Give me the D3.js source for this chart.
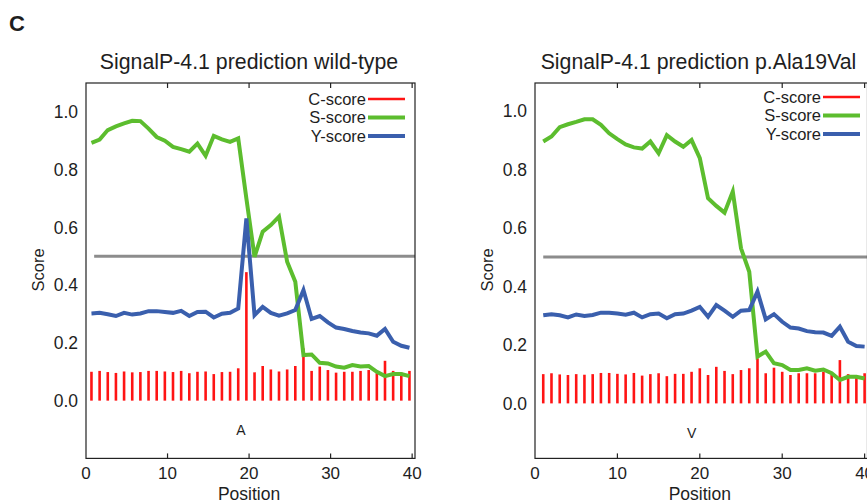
<!DOCTYPE html>
<html lang="en">
<head>
<meta charset="UTF-8">
<title>SignalP-4.1 prediction</title>
<script src="https://d3js.org/d3.v7.min.js"></script>
<style>
    body { margin: 0; background: #fff; }
    svg { display: block; font-family: "Liberation Sans", Arial, sans-serif; }
    text { fill: #1e1e1e; }
</style>
</head>
<body>
<svg id="chart" width="867" height="502"></svg>
<script>
// residue positions 1..40
const positions = [1,2,3,4,5,6,7,8,9,10,11,12,13,14,15,16,17,18,19,20,
                   21,22,23,24,25,26,27,28,29,30,31,32,33,34,35,36,37,38,39,40];

const xTicks = [0, 10, 20, 30, 40];
const yTicks = [0.0, 0.2, 0.4, 0.6, 0.8, 1.0];
const cutoff = 0.5;
const seriesNames = ["C-score", "S-score", "Y-score"];

// wild-type
const wtC = [0.100,0.103,0.099,0.096,0.101,0.098,0.099,0.103,0.103,0.101,
             0.099,0.103,0.095,0.100,0.101,0.092,0.099,0.100,0.112,0.445,
             0.098,0.120,0.108,0.101,0.108,0.120,0.181,0.103,0.118,0.106,
             0.097,0.100,0.100,0.103,0.106,0.095,0.138,0.103,0.097,0.103];
const wtS = [0.893,0.904,0.937,0.950,0.960,0.969,0.968,0.942,0.913,0.900,
             0.879,0.871,0.862,0.890,0.848,0.917,0.905,0.896,0.908,0.700,
             0.498,0.585,0.608,0.637,0.481,0.412,0.158,0.160,0.131,0.129,
             0.118,0.114,0.123,0.118,0.120,0.100,0.085,0.092,0.092,0.085];
const wtY = [0.302,0.304,0.299,0.293,0.304,0.298,0.302,0.310,0.310,0.307,
             0.304,0.311,0.293,0.307,0.308,0.288,0.301,0.304,0.319,0.631,
             0.296,0.325,0.304,0.294,0.302,0.314,0.383,0.283,0.293,0.271,
             0.253,0.248,0.241,0.236,0.233,0.225,0.248,0.204,0.190,0.183];

// p.Ala19Val
const mutC = [0.100,0.103,0.099,0.097,0.100,0.098,0.100,0.104,0.104,0.101,
              0.099,0.104,0.095,0.100,0.103,0.093,0.101,0.101,0.108,0.120,
              0.097,0.125,0.111,0.100,0.114,0.120,0.154,0.103,0.122,0.108,
              0.097,0.103,0.103,0.103,0.108,0.100,0.148,0.100,0.097,0.103];
const mutS = [0.895,0.912,0.944,0.954,0.962,0.971,0.971,0.952,0.923,0.903,
              0.885,0.875,0.871,0.895,0.855,0.917,0.895,0.877,0.900,0.838,
              0.701,0.675,0.652,0.724,0.530,0.450,0.160,0.177,0.137,0.131,
              0.114,0.114,0.120,0.112,0.116,0.103,0.080,0.091,0.091,0.085];
const mutY = [0.301,0.305,0.301,0.294,0.304,0.299,0.302,0.310,0.310,0.307,
              0.303,0.310,0.294,0.305,0.307,0.291,0.305,0.307,0.317,0.330,
              0.296,0.336,0.317,0.296,0.317,0.319,0.382,0.287,0.305,0.279,
              0.259,0.256,0.247,0.243,0.242,0.231,0.262,0.211,0.196,0.194];

const colors = { c: "#ff1414", s: "#5cbd2e", y: "#3a5fad", cut: "#8c8c8c" };

// the two panels are slightly differently scaled in the source figure
const panels = [
    { title: "SignalP-4.1 prediction wild-type", residue: "A", C: wtC, S: wtS, Y: wtY,
      x0: 86, x1: 415, shift: -0.33, yDomain: [-0.2, 1.1], titleX: 249, legendX: 405, legendY: 99 },
    { title: "SignalP-4.1 prediction p.Ala19Val", residue: "V", C: mutC, S: mutS, Y: mutY,
      x0: 535, x1: 867.5, shift: 0, yDomain: [-0.188, 1.095], titleX: 698.5, legendX: 860, legendY: 97 }
];

const svg = d3.select("#chart");
const frameTop = 83, frameBottom = 458.4;

svg.append("text")
    .attr("x", 9).attr("y", 30.5)
    .attr("font-size", 22).attr("font-weight", "bold")
    .text("C");

panels.forEach(p => {
    const x = d3.scaleLinear().domain([0, 40.35]).range([p.x0, p.x1]);
    const y = d3.scaleLinear().domain(p.yDomain).range([frameBottom, frameTop]);
    const g = svg.append("g");

    g.append("text")
        .attr("x", p.titleX).attr("y", 68.5)
        .attr("text-anchor", "middle").attr("font-size", 21.3)
        .text(p.title);

    // cutoff line
    g.append("line")
        .attr("x1", x(1)).attr("x2", p.x1)
        .attr("y1", y(cutoff)).attr("y2", y(cutoff))
        .attr("stroke", colors.cut).attr("stroke-width", 3);

    // C-score bars
    g.selectAll(".cbar")
        .data(positions)
        .enter().append("line")
        .attr("class", "cbar")
        .attr("x1", d => x(d + p.shift)).attr("x2", d => x(d + p.shift))
        .attr("y1", y(0)).attr("y2", (d, i) => y(p.C[i]))
        .attr("stroke", colors.c).attr("stroke-width", 2.6);

    const line = d3.line()
        .x((d, i) => x(positions[i] + p.shift))
        .y(d => y(d));

    g.append("path").datum(p.S)
        .attr("d", line).attr("fill", "none")
        .attr("stroke", colors.s).attr("stroke-width", 4)
        .attr("stroke-linejoin", "miter");

    g.append("path").datum(p.Y)
        .attr("d", line).attr("fill", "none")
        .attr("stroke", colors.y).attr("stroke-width", 4)
        .attr("stroke-linejoin", "miter");

    // residue letter
    g.append("text")
        .attr("x", x(19)).attr("y", y(-0.1))
        .attr("dy", "0.36em").attr("text-anchor", "middle")
        .attr("font-size", 14)
        .text(p.residue);

    // frame
    g.append("rect")
        .attr("x", p.x0).attr("y", frameTop)
        .attr("width", p.x1 - p.x0).attr("height", frameBottom - frameTop)
        .attr("fill", "none").attr("stroke", "#222").attr("stroke-width", 1.2);

    xTicks.filter(t => t > 0).forEach(t => {
        g.append("line").attr("x1", x(t)).attr("x2", x(t))
            .attr("y1", frameTop).attr("y2", frameTop + 5).attr("stroke", "#222").attr("stroke-width", 1.2);
        g.append("line").attr("x1", x(t)).attr("x2", x(t))
            .attr("y1", frameBottom).attr("y2", frameBottom - 5).attr("stroke", "#222").attr("stroke-width", 1.2);
    });

    g.selectAll(".xlab")
        .data(xTicks)
        .enter().append("text")
        .attr("x", d => x(d)).attr("y", 478.5)
        .attr("text-anchor", "middle").attr("font-size", 17)
        .text(d => d);

    g.selectAll(".ylab")
        .data(yTicks)
        .enter().append("text")
        .attr("x", p.x0 - 8).attr("y", d => y(d))
        .attr("dy", "0.36em").attr("text-anchor", "end").attr("font-size", 17.5)
        .text(d => d.toFixed(1));

    g.append("text")
        .attr("transform", `translate(${p.x0 - 42},270) rotate(-90)`)
        .attr("text-anchor", "middle").attr("font-size", 16.5)
        .text("Score");

    g.append("text")
        .attr("x", (p.x0 + x(40)) / 2).attr("y", 499.5)
        .attr("text-anchor", "middle").attr("font-size", 17.5)
        .text("Position");

    // legend
    const legColors = [colors.c, colors.s, colors.y];
    const legWidths = [2.6, 4, 4];
    seriesNames.forEach((name, i) => {
        const ly = p.legendY + i * 18.5;
        g.append("line")
            .attr("x1", p.legendX - 37).attr("x2", p.legendX)
            .attr("y1", ly).attr("y2", ly)
            .attr("stroke", legColors[i]).attr("stroke-width", legWidths[i]);
        g.append("text")
            .attr("x", p.legendX - 39).attr("y", ly)
            .attr("dy", "0.36em").attr("text-anchor", "end").attr("font-size", 16.5)
            .text(name);
    });
});
</script>
</body>
</html>
